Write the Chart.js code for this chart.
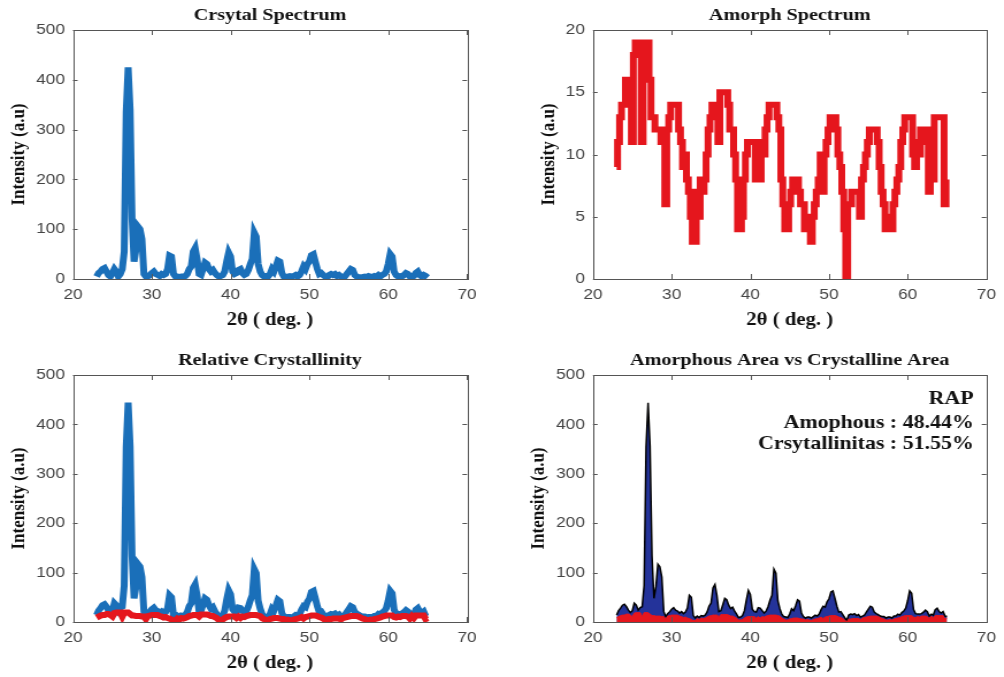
<!DOCTYPE html>
<html>
<head>
<meta charset="utf-8">
<script src="https://cdn.jsdelivr.net/npm/chart.js@4"></script>
<style>
  body { margin: 0; background: #fff; }
  canvas { position: absolute; }
</style>
</head>
<body>
<!-- the reference figure is stretched sideways (~1.15x), so each canvas is drawn narrower and shown wider -->
<canvas id="crystalChart" width="435" height="334" style="left:0px;top:0px;width:500px;height:334px"></canvas>
<canvas id="amorphChart" width="438" height="334" style="left:500px;top:0px;width:504px;height:334px"></canvas>
<canvas id="relativeChart" width="435" height="332" style="left:0px;top:345px;width:500px;height:332px"></canvas>
<canvas id="areaChart" width="438" height="332" style="left:500px;top:345px;width:504px;height:332px"></canvas>
<script>
// 2-theta positions (deg)
const theta = [
  23, 23.25, 23.5, 23.75, 24, 24.25, 24.5, 24.75, 25, 25.25, 25.5, 25.75,
  26, 26.25, 26.5, 26.75, 27, 27.25, 27.5, 27.75, 28, 28.25, 28.5, 28.75,
  29, 29.25, 29.5, 29.75, 30, 30.25, 30.5, 30.75, 31, 31.25, 31.5, 31.75,
  32, 32.25, 32.5, 32.75, 33, 33.25, 33.5, 33.75, 34, 34.25, 34.5, 34.75,
  35, 35.25, 35.5, 35.75, 36, 36.25, 36.5, 36.75, 37, 37.25, 37.5, 37.75,
  38, 38.25, 38.5, 38.75, 39, 39.25, 39.5, 39.75, 40, 40.25, 40.5, 40.75,
  41, 41.25, 41.5, 41.75, 42, 42.25, 42.5, 42.75, 43, 43.25, 43.5, 43.75,
  44, 44.25, 44.5, 44.75, 45, 45.25, 45.5, 45.75, 46, 46.25, 46.5, 46.75,
  47, 47.25, 47.5, 47.75, 48, 48.25, 48.5, 48.75, 49, 49.25, 49.5, 49.75,
  50, 50.25, 50.5, 50.75, 51, 51.25, 51.5, 51.75, 52, 52.25, 52.5, 52.75,
  53, 53.25, 53.5, 53.75, 54, 54.25, 54.5, 54.75, 55, 55.25, 55.5, 55.75,
  56, 56.25, 56.5, 56.75, 57, 57.25, 57.5, 57.75, 58, 58.25, 58.5, 58.75,
  59, 59.25, 59.5, 59.75, 60, 60.25, 60.5, 60.75, 61, 61.25, 61.5, 61.75,
  62, 62.25, 62.5, 62.75, 63, 63.25, 63.5, 63.75, 64, 64.25, 64.5, 64.75,
  65
];

// crystalline part (a.u)
const crystal = [
  5, 12, 15, 20, 22, 15, 8, 5, 12, 20, 15, 5,
  10, 20, 55, 335, 425, 340, 120, 35, 60, 105, 100, 80,
  10, 5, 5, 8, 12, 15, 10, 8, 6, 10, 8, 10,
  20, 47, 45, 10, 5, 5, 4, 5, 5, 6, 10, 20,
  25, 55, 62, 40, 10, 8, 20, 33, 30, 20, 15, 18,
  12, 8, 5, 6, 8, 15, 35, 53, 45, 15, 10, 12,
  18, 20, 12, 8, 10, 18, 30, 40, 93, 85, 30, 15,
  8, 5, 6, 5, 10, 20, 15, 25, 37, 35, 12, 5,
  4, 5, 6, 5, 6, 8, 5, 8, 15, 25, 20, 30,
  35, 48, 50, 35, 20, 10, 12, 8, 5, 3, 8, 10,
  8, 10, 6, 8, 5, 4, 5, 10, 15, 20, 18, 8,
  5, 4, 3, 4, 5, 4, 6, 5, 4, 6, 5, 8,
  5, 8, 10, 15, 30, 50, 45, 15, 8, 5, 6, 5,
  8, 12, 10, 5, 4, 6, 12, 15, 8, 5, 8, 6,
  3
];

// amorphous part (a.u)
const amorph = [
  9, 11, 13, 14, 14, 16, 16, 14, 11, 18, 19, 19,
  19, 11, 19, 19, 19, 16, 13, 13, 12, 12, 12, 11,
  11, 6, 12, 13, 14, 14, 14, 14, 12, 11, 9, 10,
  8, 7, 5, 3, 3, 7, 5, 8, 7, 8, 10, 12,
  13, 14, 14, 14, 11, 15, 15, 15, 15, 14, 12, 12,
  10, 8, 4, 4, 5, 8, 10, 11, 11, 11, 11, 8,
  11, 8, 11, 10, 12, 13, 14, 14, 14, 14, 13, 12,
  8, 6, 4, 4, 6, 7, 8, 8, 8, 7, 6, 6,
  4, 5, 4, 3, 5, 6, 7, 8, 10, 7, 10, 11,
  12, 13, 13, 13, 12, 10, 9, 7, 4, 0, 6, 6,
  7, 7, 7, 7, 5, 8, 9, 10, 11, 12, 12, 12,
  12, 11, 9, 7, 6, 4, 4, 5, 4, 6, 7, 8,
  9, 11, 12, 13, 13, 13, 13, 10, 9, 11, 10, 12,
  12, 12, 11, 7, 12, 8, 13, 13, 13, 13, 13, 6,
  8
];

const xTicks = [20, 30, 40, 50, 60, 70];
const areaNotes = ['RAP', 'Amophous : 48.44%', 'Crsytallinitas : 51.55%'];

const BLUE = '#1a6fb9';
const RED = '#e5161d';
const NAVY = '#24339a';

const toPoints = vals => theta.map((t, i) => ({ x: t, y: vals[i] }));
// measured pattern = crystalline + amorphous
const original = crystal.map((v, i) => v + amorph[i]);

const tickFont = { family: 'Liberation Sans', size: 15 };
const serifBold = size => ({ family: 'Liberation Serif', size: size, weight: 'bold' });

// MATLAB-like box with inward tick marks
const boxPlugin = {
  id: 'box',
  afterDatasetsDraw(chart) {
    const { ctx, chartArea: a, scales: { x, y } } = chart;
    ctx.save();
    ctx.strokeStyle = '#555';
    ctx.lineWidth = 1;
    ctx.strokeRect(Math.round(a.left) + 0.5, Math.round(a.top) + 0.5, Math.round(a.width), Math.round(a.height));
    ctx.beginPath();
    x.ticks.forEach(t => {
      const px = Math.round(x.getPixelForValue(t.value)) + 0.5;
      ctx.moveTo(px, a.bottom); ctx.lineTo(px, a.bottom - 5);
      ctx.moveTo(px, a.top); ctx.lineTo(px, a.top + 5);
    });
    y.ticks.forEach(t => {
      const py = Math.round(y.getPixelForValue(t.value)) + 0.5;
      ctx.moveTo(a.left, py); ctx.lineTo(a.left + 4, py);
      ctx.moveTo(a.right, py); ctx.lineTo(a.right - 4, py);
    });
    ctx.stroke();
    ctx.restore();
  }
};

// title centred over the plot area (MATLAB style), not over the whole canvas
const panelTitlePlugin = {
  id: 'panelTitle',
  afterDraw(chart, args, opts) {
    const { ctx, chartArea: a } = chart;
    ctx.save();
    ctx.font = 'bold 17.5px "Liberation Serif"';
    ctx.fillStyle = '#111';
    ctx.textAlign = 'center';
    ctx.textBaseline = 'middle';
    ctx.fillText(opts.text, (a.left + a.right) / 2, a.top - 15);
    ctx.restore();
  }
};

const notesPlugin = {
  id: 'notes',
  afterDraw(chart) {
    if (chart.canvas.id !== 'areaChart') return;
    const { ctx, chartArea: a } = chart;
    ctx.save();
    ctx.font = 'bold 19px "Liberation Serif"';
    ctx.fillStyle = '#111';
    ctx.textAlign = 'right';
    ctx.textBaseline = 'middle';
    ctx.fillText(areaNotes[0], a.right - 11, a.top + 24);
    ctx.fillText(areaNotes[1], a.right - 11, a.top + 48);
    ctx.fillText(areaNotes[2], a.right - 11, a.top + 69);
    ctx.restore();
  }
};

function makeOptions(title, ymax, ystep, padLeft, padRight, yWidth) {
  return {
    responsive: false,
    animation: false,
    layout: { padding: { left: padLeft, right: padRight, top: 30, bottom: 0 } },
    elements: { point: { radius: 0 }, line: { tension: 0 } },
    plugins: {
      legend: { display: false },
      tooltip: { enabled: false },
      title: { display: false },
      panelTitle: { text: title }
    },
    scales: {
      x: {
        type: 'linear',
        min: 20,
        max: 70,
        afterBuildTicks: s => { s.ticks = xTicks.map(v => ({ value: v })); },
        ticks: { font: tickFont, color: '#444', padding: 7, maxRotation: 0 },
        grid: { display: false, drawTicks: false },
        border: { display: false },
        title: { display: true, text: '2θ ( deg. )', color: '#111', font: serifBold(18), padding: { top: 0, bottom: 3 } },
        afterFit: s => { s.height = 55; }
      },
      y: {
        min: 0,
        max: ymax,
        ticks: { stepSize: ystep, font: tickFont, color: '#444', padding: 7 },
        grid: { display: false, drawTicks: false },
        border: { display: false },
        title: { display: true, text: 'Intensity (a.u)', color: '#111', font: serifBold(17), padding: { top: 2, bottom: 0 } },
        afterFit: s => { s.width = yWidth; }
      }
    }
  };
}

new Chart(document.getElementById('crystalChart'), {
  type: 'line',
  data: {
    datasets: [{ data: toPoints(crystal), borderColor: BLUE, borderWidth: 6, fill: false }]
  },
  options: makeOptions('Crsytal Spectrum', 500, 100, 4, 28.7, 59.5),
  plugins: [boxPlugin, panelTitlePlugin]
});

new Chart(document.getElementById('amorphChart'), {
  type: 'line',
  data: {
    datasets: [{ data: toPoints(amorph), borderColor: RED, borderWidth: 6, stepped: 'middle', fill: false }]
  },
  options: makeOptions('Amorph Spectrum', 20, 5, 30.8, 13.9, 50),
  plugins: [boxPlugin, panelTitlePlugin]
});

new Chart(document.getElementById('relativeChart'), {
  type: 'line',
  data: {
    datasets: [
      { data: toPoints(amorph), borderColor: RED, borderWidth: 6, fill: false, order: 1 },
      { data: toPoints(original), borderColor: BLUE, borderWidth: 6, fill: false, order: 2 }
    ]
  },
  options: makeOptions('Relative Crystallinity', 500, 100, 4, 28.7, 59.5),
  plugins: [boxPlugin, panelTitlePlugin]
});

new Chart(document.getElementById('areaChart'), {
  type: 'line',
  data: {
    datasets: [
      { data: toPoints(amorph), borderColor: RED, backgroundColor: RED, borderWidth: 1, fill: 'origin', order: 1 },
      { data: toPoints(original), borderColor: '#000', backgroundColor: NAVY, borderWidth: 1.5, fill: 'origin', order: 2 }
    ]
  },
  options: makeOptions('Amorphous Area vs Crystalline Area', 500, 100, 21.7, 13.9, 59.1),
  plugins: [boxPlugin, panelTitlePlugin, notesPlugin]
});
</script>
</body>
</html>
